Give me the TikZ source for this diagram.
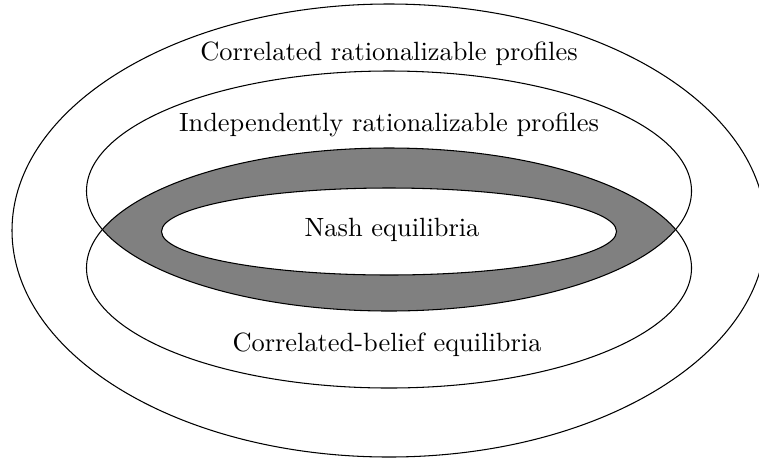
\documentclass[tikz,border=0pt]{standalone}
\begin{document}
\begin{tikzpicture}[x=0.3788pt,y=0.3788pt,
  lbl/.style={anchor=base,inner sep=0pt},
  ring/.style={draw=black,line width=0.4pt}]
\useasboundingbox (0,0) rectangle (759,460);
\clip (0,0) rectangle (759,460);
% shaded band: intersection of the two middle ellipses minus Nash
\begin{scope}
  \clip (389,269) ellipse [x radius=302.5, y radius=120];
  \fill[gray,even odd rule] (389,192) ellipse [x radius=302.5, y radius=120]
     (389,228.5) ellipse [x radius=227.5, y radius=43.5];
\end{scope}
\draw[ring] (389,229.5) ellipse [x radius=377, y radius=226.5];
\draw[ring] (389,269) ellipse [x radius=302.5, y radius=120];
\draw[ring] (389,192) ellipse [x radius=302.5, y radius=120];
\draw[ring] (389,228.5) ellipse [x radius=227.5, y radius=43.5];
\node[lbl] (crp) at (389,399.3) {Correlated rationalizable profiles};
\node[lbl] (irp) at (389,328.3) {Independently rationalizable profiles};
\node[lbl] (ne) at (392,223.3) {Nash equilibria};
\node[lbl] (cbe) at (387,108.3) {Correlated-belief equilibria};
\end{tikzpicture}
\end{document}
